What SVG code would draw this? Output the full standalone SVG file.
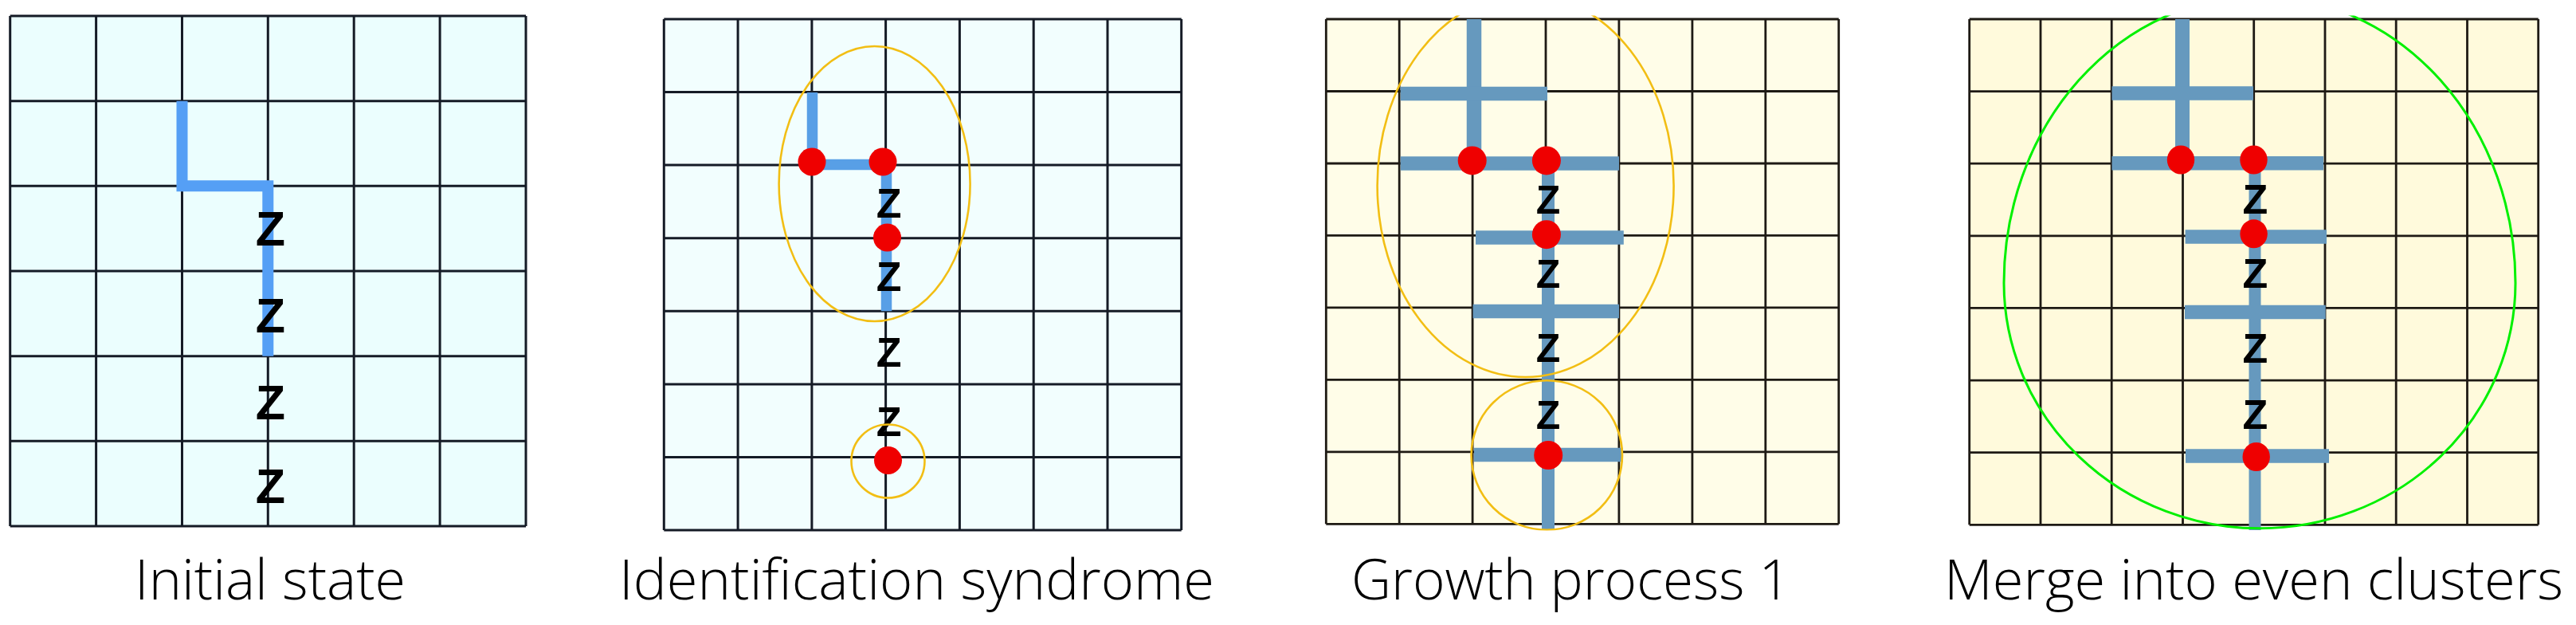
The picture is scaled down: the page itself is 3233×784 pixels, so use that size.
<svg xmlns="http://www.w3.org/2000/svg" width="3233" height="784" viewBox="0 0 3233 784">
  <style>
    .grid { fill: none; stroke: #151b26; stroke-width: 3; }
    .grid2 { fill: none; stroke: #1e1a14; stroke-width: 2.8; }
    .bl1 { fill: none; stroke: #559ff5; stroke-width: 14; stroke-linejoin: miter; stroke-linecap: butt; }
    .bl2 { fill: none; stroke: #589fe6; stroke-width: 13.5; stroke-linejoin: miter; stroke-linecap: butt; }
    .bar { fill: none; stroke: #6699be; stroke-width: 17.5; stroke-linecap: butt; }
    .dot { fill: #ef0000; }
    .ring { fill: none; stroke: #f2be14; stroke-width: 2.6; }
    .green { fill: none; stroke: #00f000; stroke-width: 3; }
    .z { font-family: "Liberation Sans", Arial, sans-serif; font-weight: bold; fill: #000; text-anchor: middle; }
    .lbl { font-family: "Open Sans", "Liberation Sans", sans-serif; font-weight: 300; font-size: 70px; fill: #000; }
  </style>
  <defs>
    <clipPath id="clip3"><rect x="1655" y="19.5" width="665" height="646"/></clipPath>
    <clipPath id="clip4"><rect x="2462" y="19.5" width="734" height="646"/></clipPath>
  </defs>
  <rect width="3233" height="784" fill="#ffffff"/>

  <!-- Panel 1: Initial state -->
  <g id="panel1">
    <rect x="12.7" y="20" width="647.3" height="640" fill="#ebfefe"/>
    <path class="grid" d="M12.7,20V660M120.6,20V660M228.5,20V660M336.3,20V660M444.2,20V660M552.1,20V660M660,20V660
      M12.7,20H660M12.7,126.7H660M12.7,233.3H660M12.7,340H660M12.7,446.7H660M12.7,553.3H660M12.7,660H660"/>
    <path class="bl1" d="M228.5,126.7V233.3H336.3V446.7"/>
    <g class="z" font-size="61">
      <text x="339.5" y="308">Z</text>
      <text x="339.5" y="417">Z</text>
      <text x="339.5" y="526">Z</text>
      <text x="339.5" y="631">Z</text>
    </g>
    <text class="lbl" x="169" y="752" textLength="340" lengthAdjust="spacingAndGlyphs">Initial state</text>
  </g>

  <!-- Panel 2: Identification syndrome -->
  <g id="panel2">
    <rect x="833.3" y="24" width="649.4" height="641" fill="#f2fefe"/>
    <path class="grid" d="M833.3,24V665M926.1,24V665M1018.9,24V665M1111.6,24V665M1204.4,24V665M1297.2,24V665M1390,24V665M1482.7,24V665
      M833.3,24H1482.7M833.3,115.6H1482.7M833.3,207.1H1482.7M833.3,298.7H1482.7M833.3,390.3H1482.7M833.3,481.9H1482.7M833.3,573.4H1482.7M833.3,665H1482.7"/>
    <path class="bl2" d="M1019.5,116V206.5H1112.5V390.3"/>
    <g class="z" font-size="52">
      <text x="1115.6" y="272.5">Z</text>
      <text x="1115.6" y="364.5">Z</text>
      <text x="1115.6" y="460">Z</text>
      <text x="1115.6" y="547">Z</text>
    </g>
    <circle class="dot" cx="1019" cy="203" r="17.5"/>
    <circle class="dot" cx="1108" cy="203" r="17.5"/>
    <circle class="dot" cx="1113.5" cy="298" r="17.5"/>
    <circle class="dot" cx="1114.5" cy="577.5" r="17.5"/>
    <ellipse class="ring" cx="1097.6" cy="230.5" rx="120" ry="172.5"/>
    <circle class="ring" cx="1114.5" cy="578.5" r="46"/>
    <text class="lbl" x="777" y="752" textLength="747" lengthAdjust="spacingAndGlyphs">Identification syndrome</text>
  </g>

  <!-- Panel 3: Growth process 1 -->
  <g id="panel3">
    <rect x="1664.3" y="24" width="643.4" height="633.3" fill="#fffde8"/>
    <path class="grid2" d="M1664.3,24V657.3M1756.2,24V657.3M1848.1,24V657.3M1940,24V657.3M2031.9,24V657.3M2123.9,24V657.3M2215.8,24V657.3M2307.7,24V657.3
      M1664.3,24H2307.7M1664.3,114.5H2307.7M1664.3,205H2307.7M1664.3,295.4H2307.7M1664.3,385.9H2307.7M1664.3,476.4H2307.7M1664.3,566.8H2307.7M1664.3,657.3H2307.7"/>
    <g clip-path="url(#clip3)">
      <path class="bar" style="stroke-width:18.5" d="M1850,24V205"/>
      <path class="bar" d="M1757.7,117.5H1942M1757.7,205H2032M1852,298H2037.8M1848.6,390.5H2032M1850,570.5H2037"/>
      <path class="bar" style="stroke-width:16" d="M1943,205V664"/>
      <g class="z" font-size="50">
        <text x="1943" y="268">Z</text>
        <text x="1943" y="361">Z</text>
        <text x="1943" y="454">Z</text>
        <text x="1943" y="538">Z</text>
      </g>
      <circle class="dot" cx="1847.7" cy="201.4" r="18"/>
      <circle class="dot" cx="1940.9" cy="201.4" r="18"/>
      <circle class="dot" cx="1940.9" cy="294.2" r="18"/>
      <circle class="dot" cx="1943.2" cy="571" r="18"/>
      <ellipse class="ring" cx="1914.6" cy="233" rx="186" ry="240"/>
      <ellipse class="ring" cx="1941.3" cy="571" rx="94.7" ry="93.7"/>
    </g>
    <text class="lbl" x="1696" y="752" textLength="551" lengthAdjust="spacingAndGlyphs">Growth process 1</text>
  </g>

  <!-- Panel 4: Merge into even clusters -->
  <g id="panel4">
    <rect x="2471.7" y="24" width="714" height="634.3" fill="#fffadc"/>
    <path class="grid2" d="M2471.7,24V658.3M2561,24V658.3M2650.2,24V658.3M2739.5,24V658.3M2828.7,24V658.3M2918,24V658.3M3007.2,24V658.3M3096.5,24V658.3M3185.7,24V658.3
      M2471.7,24H3185.7M2471.7,114.6H3185.7M2471.7,205.2H3185.7M2471.7,295.8H3185.7M2471.7,386.4H3185.7M2471.7,477.1H3185.7M2471.7,567.7H3185.7M2471.7,658.3H3185.7"/>
    <g clip-path="url(#clip4)">
      <path class="bar" style="stroke-width:18" d="M2739,24V201"/>
      <path class="bar" d="M2650.5,117H2828M2650.5,204.7H2916M2742.6,297H2920M2742,391.5H2918.7M2743,572H2923"/>
      <path class="bar" style="stroke-width:15" d="M2830,204.7V665"/>
      <g class="z" font-size="52">
        <text x="2830.5" y="268">Z</text>
        <text x="2830.5" y="361">Z</text>
        <text x="2830.5" y="455">Z</text>
        <text x="2830.5" y="538">Z</text>
      </g>
      <ellipse class="dot" cx="2737" cy="200.5" rx="17.2" ry="18"/>
      <ellipse class="dot" cx="2828.5" cy="200.5" rx="17.2" ry="18"/>
      <ellipse class="dot" cx="2828.6" cy="293.3" rx="17.2" ry="18"/>
      <ellipse class="dot" cx="2831.7" cy="573" rx="17.2" ry="18"/>
      <path class="green" d="M2515,355A321,360 0 0 1 3157,355A321,308 0 0 1 2515,355Z"/>
    </g>
    <text class="lbl" x="2440" y="752" textLength="777" lengthAdjust="spacingAndGlyphs">Merge into even clusters</text>
  </g>
</svg>
